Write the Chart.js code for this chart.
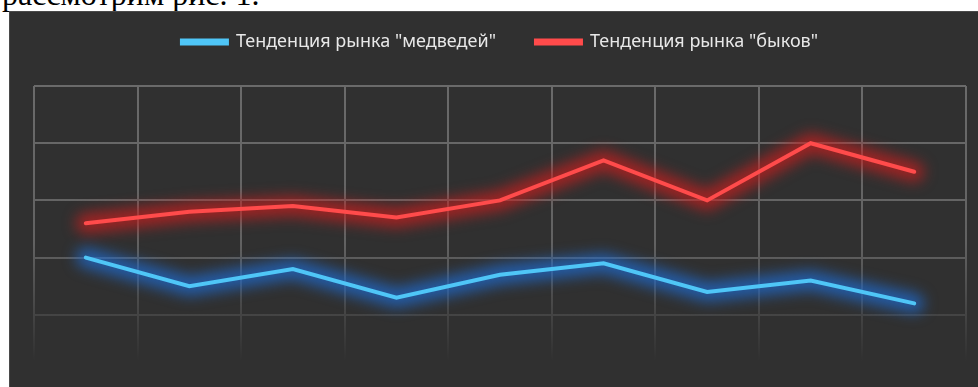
<!DOCTYPE html>
<html>
<head>
<meta charset="utf-8">
<script src="https://cdn.jsdelivr.net/npm/chart.js@4.4.0/dist/chart.umd.min.js"></script>
<style>
  html, body { margin: 0; padding: 0; background: #fff; width: 978px; height: 387px; overflow: hidden; }
  .intro {
    position: absolute; left: 2px; top: -22px;
    font-family: "Liberation Serif", serif; font-size: 32px; line-height: 32px; color: #000;
    white-space: nowrap;
  }
  .panel {
    position: absolute; left: 9px; top: 11px; width: 969px; height: 376px;
    background: #303030; border-top: 1px solid #4a4a4a; border-left: 1px solid #4a4a4a;
    box-sizing: border-box;
  }
  .panel canvas { display: block; }
</style>
</head>
<body>
<div class="intro">рассмотрим рис. 1.</div>
<div class="panel"><canvas id="trend" width="968" height="375"></canvas></div>
<script>
// categories (no labels shown on the original axis)
const periods = ['1', '2', '3', '4', '5', '6', '7', '8', '9'];
// series values
const bearTrend = [2.0, 1.5, 1.8, 1.3, 1.7, 1.9, 1.4, 1.6, 1.2];
const bullTrend = [2.6, 2.8, 2.9, 2.7, 3.0, 3.7, 3.0, 4.0, 3.5];
const seriesNames = ['Тенденция рынка "медведей"', 'Тенденция рынка "быков"'];
const yTicks = [0, 1, 2, 3, 4, 5];

// fading grid like the original picture
function gridColor(context) {
  const area = context.chart.chartArea;
  if (!area) return '#666';
  const g = context.chart.ctx.createLinearGradient(0, area.top, 0, area.bottom);
  g.addColorStop(0, '#6a6a6a');
  g.addColorStop(0.55, '#626262');
  g.addColorStop(0.8, '#444444');
  g.addColorStop(0.96, '#303030');
  g.addColorStop(1, '#303030');
  return g;
}

// neon glow: a wide blurred stroke along the points placed by the scales
const glowPlugin = {
  id: 'glow',
  beforeDatasetDraw(chart, args) {
    const ds = chart.data.datasets[args.index];
    const pts = args.meta.data;
    const c = chart.ctx;
    c.save();
    c.filter = 'blur(7px)';
    c.strokeStyle = ds.glowColor;
    c.lineWidth = 20;
    c.lineJoin = 'round';
    c.lineCap = 'round';
    c.beginPath();
    pts.forEach((p, i) => (i ? c.lineTo(p.x, p.y) : c.moveTo(p.x, p.y)));
    c.stroke();
    c.restore();
  }
};

// extra room between legend and plot area
const legendGap = {
  id: 'legendGap',
  afterInit(chart) {
    const fit = chart.legend.fit;
    chart.legend.fit = function () {
      fit.call(this);
      this.height += 25;
    };
  }
};

const ctx = document.getElementById('trend').getContext('2d');
new Chart(ctx, {
  type: 'line',
  data: {
    labels: periods,
    datasets: [
      {
        label: seriesNames[0],
        data: bearTrend,
        borderColor: '#4fc6f7',
        backgroundColor: '#4fc6f7',
        glowColor: 'rgba(30,110,215,0.7)',
        borderWidth: 4,
        pointRadius: 0,
        tension: 0,
        borderCapStyle: 'round',
        borderJoinStyle: 'miter'
      },
      {
        label: seriesNames[1],
        data: bullTrend,
        borderColor: '#ff4b4b',
        backgroundColor: '#ff4b4b',
        glowColor: 'rgba(205,30,30,0.7)',
        borderWidth: 4,
        pointRadius: 0,
        tension: 0,
        borderCapStyle: 'round',
        borderJoinStyle: 'miter'
      }
    ]
  },
  options: {
    responsive: false,
    animation: false,
    layout: {
      padding: { top: -19, left: 24, right: 12, bottom: 15 }
    },
    scales: {
      x: {
        offset: true,
        grid: { color: gridColor, lineWidth: 2, drawTicks: false, offset: true },
        border: { display: false },
        ticks: { display: false }
      },
      y: {
        min: yTicks[0],
        max: yTicks[yTicks.length - 1],
        afterBuildTicks(scale) {
          scale.ticks = yTicks.map(v => ({ value: v }));
        },
        grid: { color: gridColor, lineWidth: 2, drawTicks: false },
        border: { display: false },
        ticks: { display: false }
      }
    },
    plugins: {
      legend: {
        position: 'top',
        labels: {
          color: '#e8e8e8',
          boxWidth: 45,
          boxHeight: 3,
          padding: 40,
          font: { family: 'Noto Sans', size: 18 }
        }
      },
      tooltip: { enabled: false }
    }
  },
  plugins: [glowPlugin, legendGap]
});
</script>
</body>
</html>
